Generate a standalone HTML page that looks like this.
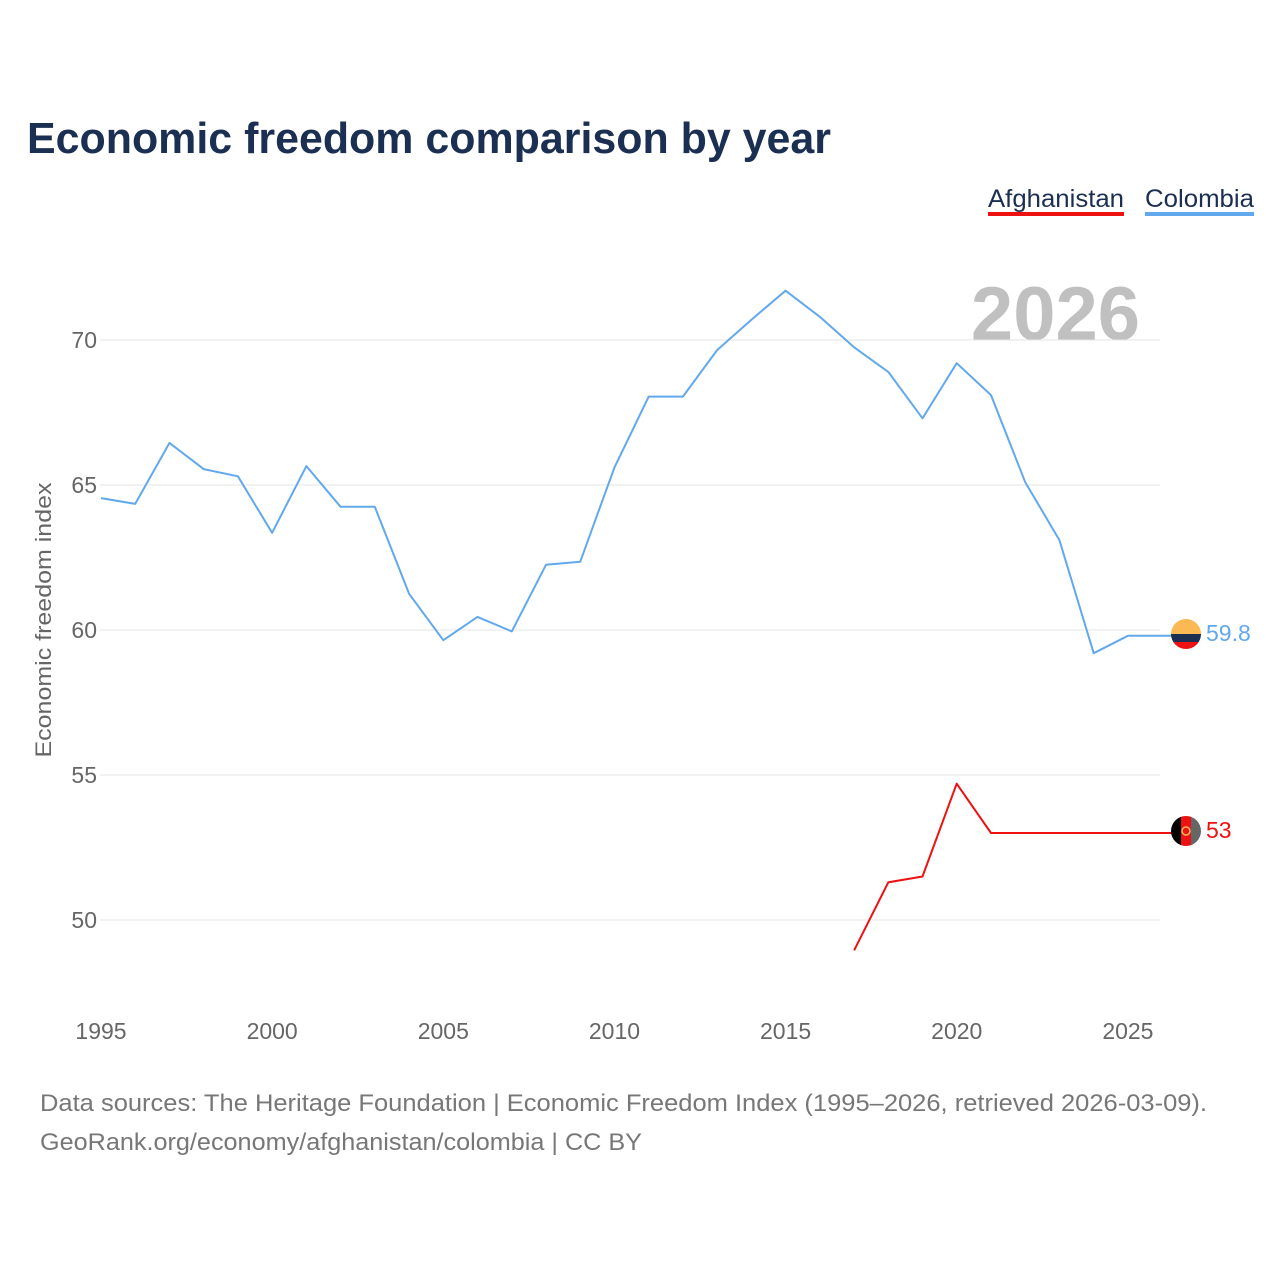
<!DOCTYPE html>
<html><head><meta charset="utf-8"><style>
body{margin:0;background:#fff;font-family:"Liberation Sans",sans-serif;}
svg{display:block}
</style></head><body>
<svg width="1280" height="1280" xmlns="http://www.w3.org/2000/svg" id="chart">
<text x="27" y="153" font-size="44" font-weight="bold" fill="#1b2f52" textLength="804" lengthAdjust="spacingAndGlyphs">Economic freedom comparison by year</text>
<g>
<text x="988" y="207" font-size="25" fill="#1b2f52" textLength="136" lengthAdjust="spacingAndGlyphs">Afghanistan</text>
<rect x="988" y="212" width="136" height="4" fill="#ee1111"/>
<text x="1145" y="207" font-size="25" fill="#1b2f52" textLength="109" lengthAdjust="spacingAndGlyphs">Colombia</text>
<rect x="1145" y="212" width="109" height="4" fill="#62a8ec"/>
</g>
<text x="1140" y="340" font-size="76" font-weight="bold" fill="#c0c0c0" text-anchor="end">2026</text>
<g id="grid"></g><g id="xt"></g><g id="yt"></g><g id="lines"></g>
<text transform="translate(51,620) rotate(-90)" font-size="22" fill="#666" text-anchor="middle" textLength="275" lengthAdjust="spacingAndGlyphs">Economic freedom index</text>
<g>
<clipPath id="c1"><circle cx="1186" cy="634" r="15"/></clipPath>
<g clip-path="url(#c1)"><rect x="1170" y="618" width="32" height="16" fill="#fbb954"/><rect x="1170" y="634" width="32" height="8" fill="#1b2f52"/><rect x="1170" y="642" width="32" height="8" fill="#ee1111"/></g></g>
<g>
<clipPath id="c2"><circle cx="1186" cy="831" r="15"/></clipPath>
<g clip-path="url(#c2)"><rect x="1170" y="815" width="11" height="32" fill="#000"/><rect x="1181" y="815" width="10" height="32" fill="#ee1111"/><rect x="1191" y="815" width="11" height="32" fill="#666"/><circle cx="1186" cy="831" r="4" fill="none" stroke="#fbb954" stroke-width="1.5"/></g></g>
<text x="1206" y="641" font-size="23" fill="#62a8ec">59.8</text>
<text x="1206" y="838" font-size="23" fill="#ee1111">53</text>
<text x="40" y="1111" font-size="24" fill="#777" textLength="1167" lengthAdjust="spacingAndGlyphs">Data sources: The Heritage Foundation | Economic Freedom Index (1995–2026, retrieved 2026-03-09).</text>
<text x="40" y="1150" font-size="24" fill="#777" textLength="602" lengthAdjust="spacingAndGlyphs">GeoRank.org/economy/afghanistan/colombia | CC BY</text>
</svg>
<script>
const colYears=[1995,1996,1997,1998,1999,2000,2001,2002,2003,2004,2005,2006,2007,2008,2009,2010,2011,2012,2013,2014,2015,2016,2017,2018,2019,2020,2021,2022,2023,2024,2025,2026];
const colombia=[64.55,64.35,66.45,65.55,65.3,63.35,65.65,64.25,64.25,61.25,59.65,60.45,59.95,62.25,62.35,65.6,68.05,68.05,69.65,70.7,71.7,70.8,69.75,68.9,67.3,69.2,68.1,65.1,63.1,59.2,59.8,59.8];
const afgYears=[2017,2018,2019,2020,2021,2022,2023,2024,2025,2026];
const afghanistan=[48.95,51.3,51.5,54.7,53.0,53.0,53.0,53.0,53.0,53.0];
const xTicks=[1995,2000,2005,2010,2015,2020,2025];
const yTicks=[50,55,60,65,70];
const X=y=>101+(y-1995)*34.23;
const Y=v=>340+(70-v)*29;
const NS="http://www.w3.org/2000/svg";
function mk(tag,parent,attrs){const e=document.createElementNS(NS,tag);for(const k in attrs)e.setAttribute(k,attrs[k]);document.getElementById(parent).appendChild(e);return e;}
yTicks.forEach(v=>{
const l=mk('line','grid',{x1:100,x2:1160,y1:Y(v),y2:Y(v),stroke:'#e6e6e6','stroke-width':1});


const t=mk('text','yt',{x:97,y:Y(v)+8,'font-size':23,fill:'#666','text-anchor':'end'});t.textContent=v;


});
xTicks.forEach(y=>{
const t=mk('text','xt',{x:X(y),y:1039,'font-size':23,fill:'#666','text-anchor':'middle'});t.textContent=y;


});
function line(years,vals,color,name,extend){
let d=years.map((y,i)=>(i?'L':'M')+X(y).toFixed(1)+','+Y(vals[i]).toFixed(1)).join(' ');
d+=' L'+extend+','+Y(vals[vals.length-1]).toFixed(1);
const p=mk('path','lines',{d:d,fill:'none',stroke:color,'stroke-width':2,'stroke-linejoin':'round'});


}
line(colYears,colombia,'#62a8ec','line-colombia',1172);
line(afgYears,afghanistan,'#ee1111','line-afghanistan',1172);
</script>
</body></html>
